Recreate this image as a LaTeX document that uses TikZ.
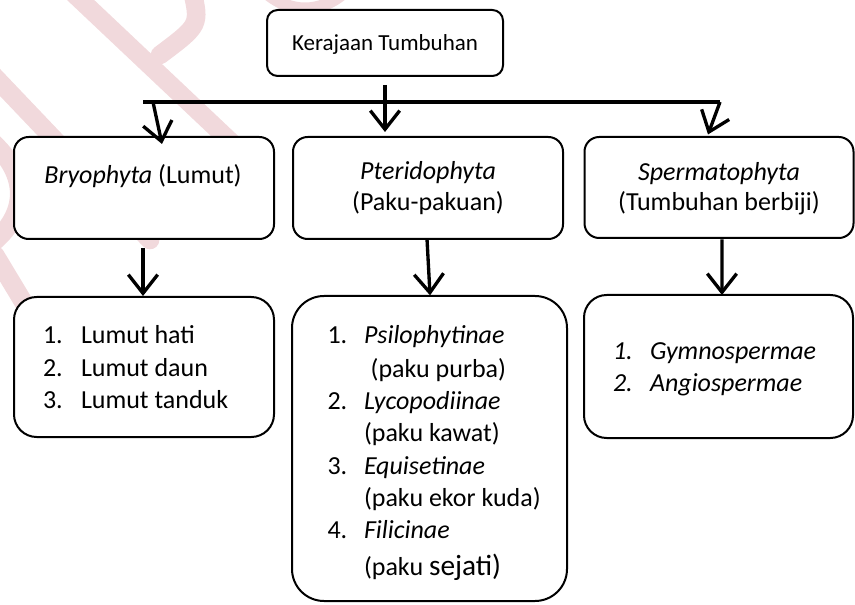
\documentclass[tikz,border=0pt]{standalone}
\usepackage{fontspec}
\setmainfont{Carlito}
\usetikzlibrary{arrows.meta}
\definecolor{wm}{RGB}{241,217,220}
\begin{document}
\begin{tikzpicture}[x=0.75pt,y=-0.75pt,
 box/.style={draw,fill=white,line width=1.5pt,rounded corners=11pt,inner sep=0pt,outer sep=0pt},
 txt/.style={inner sep=0pt,outer sep=0pt,anchor=base west,font=\fontsize{19.5pt}{24pt}\selectfont},
 ctxt/.style={inner sep=0pt,outer sep=0pt,anchor=base,font=\fontsize{19.5pt}{24pt}\selectfont},
 arr/.style={line width=2.5pt,-{Straight Barb[length=14pt,width=22pt,line width=2.5pt]}},
 wmark/.style={wm,line width=14pt,line cap=round}]
\useasboundingbox (0,0) rectangle (855,605);
% watermark
\draw[wmark] (70,-10) -- (250,160);
\draw[wmark] (192,-10) .. controls (200,25) .. (160,55);
\draw[wmark] (-10,72) -- (150,240);
\draw[wmark] (-10,140) .. controls (30,175) and (28,215) .. (-10,245);
\draw[wmark] (-5,255) -- (42,333);
\draw[wmark,line width=9pt] (265,-8) .. controls (290,14) and (320,14) .. (345,-8);
% boxes
\node[box,rounded corners=8pt,minimum width=177pt,minimum height=49.5pt] (top) at (385,43) {};
\node[box,minimum width=195pt,minimum height=76.5pt] (bry) at (144,188) {};
\node[box,minimum width=202.5pt,minimum height=76.5pt] (pter) at (428,188) {};
\node[box,minimum width=201.75pt,minimum height=75.75pt] (sperm) at (719,187.5) {};
\node[box,rounded corners=17pt,minimum width=195pt,minimum height=105pt] (lbry) at (144,367) {};
\node[box,rounded corners=24pt,minimum width=206.25pt,minimum height=228.75pt] (lpter) at (429.5,448.5) {};
\node[box,rounded corners=17pt,minimum width=201.75pt,minimum height=107.25pt] (lsperm) at (718.5,366.5) {};
% texts
\node[ctxt,font=\fontsize{17.25pt}{20pt}\selectfont] (ttop) at (385,50.7) {Kerajaan Tumbuhan};
\node[ctxt] (tbry) at (143,184) {\textit{Bryophyta} (Lumut)};
\node[ctxt] (tpter1) at (428,180) {\textit{Pteridophyta}};
\node[ctxt] (tpter2) at (428,211) {(Paku-pakuan)};
\node[ctxt] (tsperm1) at (719,180.7) {\textit{Spermatophyta}};
\node[ctxt] (tsperm2) at (719,211) {(Tumbuhan berbiji)};
% list 1
\node[txt] (n11) at (43,344) {1.};
\node[txt] (i11) at (81,344) {Lumut hati};
\node[txt] (n12) at (43,376.5) {2.};
\node[txt] (i12) at (81,376.5) {Lumut daun};
\node[txt] (n13) at (43,408.5) {3.};
\node[txt] (i13) at (81,408.5) {Lumut tanduk};
% list 2
\node[txt] (n21) at (327.5,343.3) {1.};
\node[txt] (i21) at (364,343.3) {\textit{Psilophytinae}};
\node[txt] (d21) at (370.7,377.3) {(paku purba)};
\node[txt] (n22) at (327.5,409.3) {2.};
\node[txt] (i22) at (364,409.3) {\textit{Lycopodiinae}};
\node[txt] (d22) at (364,441.7) {(paku kawat)};
\node[txt] (n23) at (327.5,474.3) {3.};
\node[txt] (i23) at (364,474.3) {\textit{Equisetinae}};
\node[txt] (d23) at (364,506) {(paku ekor kuda)};
\node[txt] (n24) at (327.5,538.3) {4.};
\node[txt] (i24) at (364,538.3) {\textit{Filicinae}};
\node[txt] (d24) at (364,575) {(paku {\fontsize{22pt}{26pt}\selectfont sejati)}};
% list 3
\node[txt] (n31) at (613,359.3) {\textit{1.}};
\node[txt] (i31) at (650,359.3) {\textit{Gymnospermae}};
\node[txt] (n32) at (613,391.7) {\textit{2.}};
\node[txt] (i32) at (650,391.7) {\textit{Angiospermae}};
% connectors
\coordinate (barL) at (143,102);
\coordinate (barR) at (720,102);
\coordinate (barB) at (153,102);
\draw[line width=3pt] (barL) -- (barR);
\draw[arr] ([yshift=-6.75pt]top.south) -- ([yshift=3.75pt]top.south |- pter.north);
\draw[arr] (barB) -- ([xshift=13.5pt,yshift=-5.25pt]bry.north);
\draw[arr] (barR) -- ([xshift=-8.25pt,yshift=1.9pt]sperm.north);
\draw[arr] ([xshift=-0.75pt,yshift=-6.75pt]bry.south) -- ([xshift=-0.75pt,yshift=0.75pt]lbry.north);
\draw[arr] ([xshift=-0.75pt]pter.south) -- ([xshift=0.4pt,yshift=0.5pt]lpter.north);
\draw[arr] ([xshift=2.25pt,yshift=-1pt]sperm.south) -- ([xshift=2.6pt]lsperm.north);
\end{tikzpicture}
\end{document}
